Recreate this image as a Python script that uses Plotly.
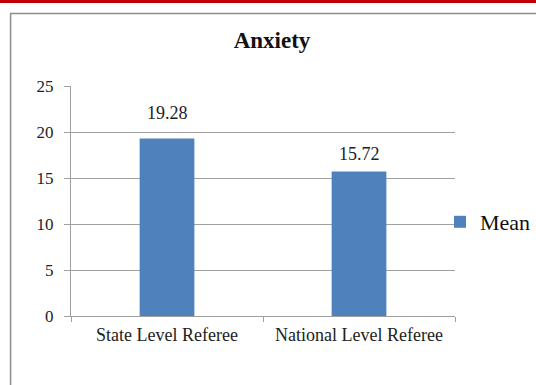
import plotly.graph_objects as go

categories = ["State Level Referee", "National Level Referee"]
mean_values = [19.28, 15.72]
value_labels = ["19.28", "15.72"]
label_shift = [26, 17]
series_name = "Mean"
title_text = "Anxiety"

W, H = 536, 385
L, R, T, B = 70.5, 536 - 455, 86, 385 - 316
pw = W - L - R
ph = H - T - B
FONT = "Liberation Serif"

def px2x(px):
    return (px - L) / pw

def py2y(py):
    return (H - B - py) / ph

fig = go.Figure()
fig.add_trace(go.Bar(
    x=categories, y=mean_values, name=series_name,
    marker=dict(color="#4f81bd", line=dict(width=0)),
    width=0.285, showlegend=True,
))

for c, v, t, s in zip(categories, mean_values, value_labels, label_shift):
    fig.add_annotation(x=c, y=v, text=t, showarrow=False, yshift=s,
                       font=dict(family=FONT, size=18, color="#222"))

shapes = [
    dict(type="line", xref="paper", yref="paper",
         x0=px2x(-5), x1=px2x(545), y0=py2y(1.5), y1=py2y(1.5),
         line=dict(color="#c00000", width=3)),
    dict(type="rect", xref="paper", yref="paper",
         x0=px2x(10), x1=px2x(560), y0=py2y(13.5), y1=py2y(400),
         line=dict(color="#8c8c8c", width=1.5)),
]

fig.update_layout(
    width=W, height=H,
    margin=dict(l=L, r=R, t=T, b=B, autoexpand=False),
    paper_bgcolor="white", plot_bgcolor="white",
    font=dict(family=FONT, color="#222"),
    title=dict(text="<b>" + title_text + "</b>", x=272 / W,
               xanchor="center", y=1 - 40 / H, yanchor="middle",
               font=dict(family=FONT, size=23, color="#111")),
    shapes=shapes,
    bargap=0.715,
    legend=dict(x=px2x(440), xanchor="left", y=py2y(222), yanchor="middle",
                font=dict(family=FONT, size=22, color="#111"),
                bgcolor="rgba(0,0,0,0)", itemwidth=30),
    xaxis=dict(showline=True, linecolor="#a0a0a0", linewidth=1,
               ticks="outside", tickson="boundaries", ticklen=5, tickcolor="#a0a0a0",
               ticklabelstandoff=2,
               tickfont=dict(family=FONT, size=18, color="#222"),
               showgrid=False),
    yaxis=dict(range=[0, 25], dtick=5, tick0=0, showline=True, linecolor="#a0a0a0",
               linewidth=1, ticks="outside", ticklen=6, tickcolor="#a0a0a0",
               ticklabelstandoff=7,
               showgrid=True, gridcolor="#a0a0a0", gridwidth=1,
               tickfont=dict(family=FONT, size=17, color="#222"),
               zeroline=False),
)

fig.write_html("out.html")
